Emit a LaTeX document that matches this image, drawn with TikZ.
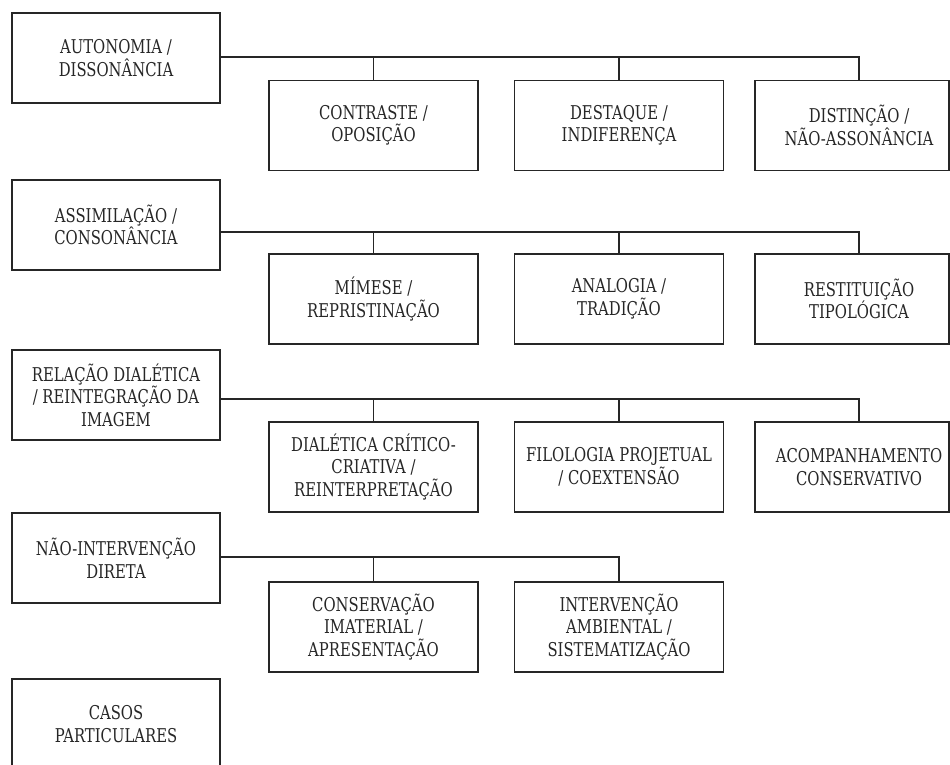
\documentclass[tikz,border=0pt]{standalone}
\usepackage{fontspec}
\setmainfont{DejaVu Serif}[FakeStretch=0.78]
\tikzset{>=latex}

\tikzset{
  mainbox/.style={draw=black!85, line width=1.8pt, minimum width=208pt, minimum height=90pt,
    align=center, text=black!85, font=\fontsize{19}{22.5}\selectfont},
  subbox/.style={mainbox, minimum width=209pt},
  lastbox/.style={mainbox, minimum width=194pt},
  link/.style={draw=black!85, line width=1.8pt},
}

\begin{document}
\begin{tikzpicture}[x=1pt,y=-1pt]
    \useasboundingbox (0,0) rectangle (950,764);
    \clip (0,0) rectangle (950,764);
    % first row
    \node[mainbox] (aut) at (116,58) {AUTONOMIA /\\DISSONÂNCIA};
    \node[subbox] (contr) at (373.5,125.5) {CONTRASTE /\\OPOSIÇÃO};
    \node[subbox] (dest) at (619,125.5) {DESTAQUE /\\INDIFERENÇA};
    \node[lastbox, label={[mainbox,draw=none,xshift=7pt]center:{DISTINÇÃO /\\NÃO-ASSONÂNCIA}}] (dist) at (852,125.5) {};
    % second row
    \node[mainbox] (ass) at (116,225) {ASSIMILAÇÃO /\\CONSONÂNCIA};
    \node[subbox] (mim) at (373.5,299) {MÍMESE /\\REPRISTINAÇÃO};
    \node[subbox] (anal) at (619,299) {ANALOGIA /\\TRADIÇÃO};
    \node[lastbox, label={[mainbox,draw=none,xshift=7pt]center:{RESTITUIÇÃO\\TIPOLÓGICA}}] (rest) at (852,299) {};
    % third row
    \node[mainbox] (rel) at (116,395) {RELAÇÃO DIALÉTICA\\/ REINTEGRAÇÃO DA\\IMAGEM};
    \node[subbox] (dial) at (373.5,467) {DIALÉTICA CRÍTICO-\\CRIATIVA /\\REINTERPRETAÇÃO};
    \node[subbox] (fil) at (619,467) {FILOLOGIA PROJETUAL\\/ COEXTENSÃO};
    \node[lastbox, label={[mainbox,draw=none,xshift=7pt]center:{ACOMPANHAMENTO\\CONSERVATIVO}}] (acomp) at (852,467) {};
    % fourth row
    \node[mainbox] (nao) at (116,558) {NÃO-INTERVENÇÃO\\DIRETA};
    \node[subbox] (cons) at (373.5,627) {CONSERVAÇÃO\\IMATERIAL /\\APRESENTAÇÃO};
    \node[subbox] (amb) at (619,627) {INTERVENÇÃO\\AMBIENTAL /\\SISTEMATIZAÇÃO};
    % last one
    \node[mainbox] (casos) at (116,724) {CASOS\\PARTICULARES};

    % connectors
    \draw[link] (aut.east |- 0,57) -| ([xshift=7pt]dist.north);
    \draw[link] (contr.north) -- (contr.north |- 0,57);
    \draw[link] (dest.north) -- (dest.north |- 0,57);
    \draw[link] (ass.east |- 0,232) -| ([xshift=7pt]rest.north);
    \draw[link] (mim.north) -- (mim.north |- 0,232);
    \draw[link] (anal.north) -- (anal.north |- 0,232);
    \draw[link] (rel.east |- 0,399) -| ([xshift=7pt]acomp.north);
    \draw[link] (dial.north) -- (dial.north |- 0,399);
    \draw[link] (fil.north) -- (fil.north |- 0,399);
    \draw[link] (nao.east |- 0,557) -| (amb.north);
    \draw[link] (cons.north) -- (cons.north |- 0,557);
\end{tikzpicture}
\end{document}
